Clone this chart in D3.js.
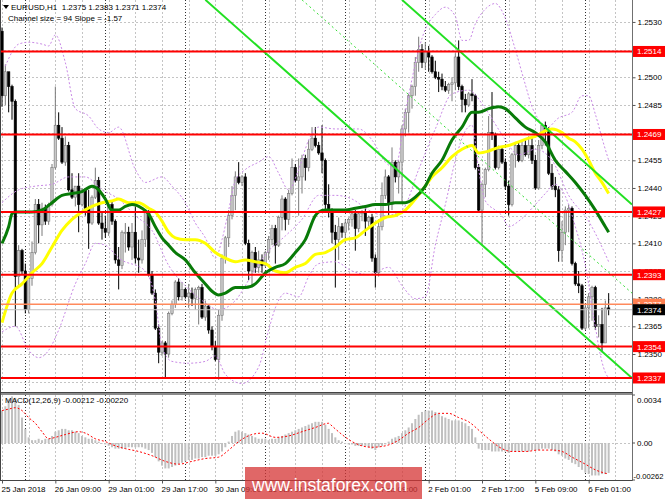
<!DOCTYPE html>
<html>
<head>
<meta charset="utf-8">
<script src="https://cdn.jsdelivr.net/npm/d3@7"></script>
<style>
body { margin: 0; background: #fff; }
svg { display: block; }
text { font-family: "Liberation Sans", Arial, sans-serif; font-size: 8px; fill: #000; white-space: pre; }
</style>
</head>
<body>
<svg id="chart" width="665" height="499"></svg>
<script>
// EURUSD H1, 25 Jan 2018 17:00 .. 6 Feb 2018 07:00 (183 bars)
var firstOpen = 1.2525;
var closes = [
  1.2490, 1.2503, 1.2495, 1.2487, 1.2392, 1.2406, 1.2395, 1.2374, 1.2391, 1.2405,
  1.2431, 1.2420, 1.2429, 1.2422, 1.2431, 1.2451, 1.2474, 1.2467, 1.2454, 1.2463,
  1.2439, 1.2435, 1.2441, 1.2431, 1.2439, 1.2429, 1.2421, 1.2435, 1.2444, 1.2421,
  1.2418, 1.2416, 1.2431, 1.2422, 1.2401, 1.2398, 1.2416, 1.2416, 1.2408, 1.2416,
  1.2402, 1.2401, 1.2412, 1.2427, 1.2393, 1.2383, 1.2364, 1.2351, 1.2356, 1.2350,
  1.2372, 1.2377, 1.2389, 1.2381, 1.2385, 1.2381, 1.2383, 1.2380, 1.2385, 1.2386,
  1.2370, 1.2376, 1.2363, 1.2354, 1.2347, 1.2371, 1.2402, 1.2413, 1.2425, 1.2436,
  1.2446, 1.2443, 1.2446, 1.2410, 1.2395, 1.2405, 1.2397, 1.2401, 1.2398, 1.2405,
  1.2412, 1.2418, 1.2409, 1.2424, 1.2434, 1.2423, 1.2437, 1.2451, 1.2444, 1.2446,
  1.2456, 1.2451, 1.2461, 1.2467, 1.2463, 1.2459, 1.2455, 1.2431, 1.2427, 1.2416,
  1.2412, 1.2419, 1.2416, 1.2421, 1.2423, 1.2426, 1.2418, 1.2426, 1.2427, 1.2422,
  1.2424, 1.2402, 1.2394, 1.2419, 1.2436, 1.2446, 1.2431, 1.2454, 1.2446, 1.2454,
  1.2472, 1.2481, 1.2490, 1.2495, 1.2508, 1.2515, 1.2508, 1.2514, 1.2511, 1.2503,
  1.2500, 1.2499, 1.2495, 1.2493, 1.2496, 1.2497, 1.2511, 1.2495, 1.2488, 1.2485,
  1.2491, 1.2490, 1.2451, 1.2428, 1.2442, 1.2450, 1.2470, 1.2469, 1.2451, 1.2461,
  1.2454, 1.2441, 1.2431, 1.2458, 1.2463, 1.2455, 1.2463, 1.2458, 1.2463, 1.2455,
  1.2440, 1.2463, 1.2474, 1.2472, 1.2448, 1.2441, 1.2439, 1.2406, 1.2416, 1.2428,
  1.2429, 1.2399, 1.2388, 1.2387, 1.2364, 1.2375, 1.2381, 1.2386, 1.2365, 1.2366,
  1.2356, 1.2375, 1.2374
];
var highs = [
  1.2527, 1.2507, 1.2502, 1.2496, 1.2488, 1.2409, 1.2407, 1.2399, 1.2393, 1.2411,
  1.2434, 1.2434, 1.2432, 1.2431, 1.2432, 1.2453, 1.2495, 1.2481, 1.2473, 1.2468,
  1.2465, 1.2448, 1.2441, 1.2448, 1.2440, 1.2440, 1.2439, 1.2436, 1.2451, 1.2446,
  1.2427, 1.2425, 1.2432, 1.2433, 1.2423, 1.2408, 1.2417, 1.2421, 1.2419, 1.2421,
  1.2430, 1.2412, 1.2417, 1.2428, 1.2428, 1.2395, 1.2385, 1.2366, 1.2357, 1.2357,
  1.2373, 1.2379, 1.2390, 1.2391, 1.2389, 1.2386, 1.2388, 1.2386, 1.2386, 1.2387,
  1.2388, 1.2379, 1.2377, 1.2365, 1.2357, 1.2374, 1.2404, 1.2414, 1.2428, 1.2441,
  1.2449, 1.2454, 1.2447, 1.2448, 1.2412, 1.2406, 1.2408, 1.2406, 1.2404, 1.2406,
  1.2414, 1.2420, 1.2420, 1.2425, 1.2436, 1.2435, 1.2439, 1.2456, 1.2453, 1.2456,
  1.2458, 1.2458, 1.2466, 1.2473, 1.2473, 1.2465, 1.2474, 1.2456, 1.2442, 1.2429,
  1.2420, 1.2424, 1.2421, 1.2423, 1.2424, 1.2427, 1.2428, 1.2427, 1.2428, 1.2429,
  1.2425, 1.2426, 1.2404, 1.2423, 1.2443, 1.2450, 1.2447, 1.2462, 1.2455, 1.2455,
  1.2474, 1.2483, 1.2491, 1.2496, 1.2511, 1.2522, 1.2518, 1.2519, 1.2517, 1.2512,
  1.2509, 1.2503, 1.2502, 1.2498, 1.2497, 1.2500, 1.2513, 1.2520, 1.2496, 1.2491,
  1.2492, 1.2499, 1.2491, 1.2453, 1.2443, 1.2451, 1.2479, 1.2492, 1.2470, 1.2463,
  1.2462, 1.2456, 1.2444, 1.2459, 1.2465, 1.2465, 1.2465, 1.2466, 1.2468, 1.2467,
  1.2458, 1.2466, 1.2475, 1.2476, 1.2473, 1.2453, 1.2446, 1.2441, 1.2422, 1.2430,
  1.2431, 1.2430, 1.2400, 1.2395, 1.2388, 1.2377, 1.2383, 1.2387, 1.2387, 1.2371,
  1.2375, 1.2379, 1.2383
];
var lows = [
  1.2484, 1.2485, 1.2481, 1.2477, 1.2365, 1.2387, 1.2393, 1.2372, 1.2372, 1.2387,
  1.2404, 1.2410, 1.2414, 1.2420, 1.2420, 1.2430, 1.2450, 1.2466, 1.2453, 1.2452,
  1.2438, 1.2434, 1.2430, 1.2416, 1.2430, 1.2425, 1.2407, 1.2420, 1.2434, 1.2420,
  1.2412, 1.2413, 1.2414, 1.2420, 1.2399, 1.2385, 1.2396, 1.2405, 1.2406, 1.2401,
  1.2399, 1.2394, 1.2399, 1.2408, 1.2392, 1.2382, 1.2363, 1.2345, 1.2349, 1.2337,
  1.2348, 1.2371, 1.2375, 1.2379, 1.2379, 1.2380, 1.2375, 1.2376, 1.2374, 1.2366,
  1.2369, 1.2368, 1.2361, 1.2352, 1.2346, 1.2336, 1.2368, 1.2399, 1.2408, 1.2423,
  1.2428, 1.2442, 1.2441, 1.2409, 1.2390, 1.2386, 1.2394, 1.2394, 1.2394, 1.2397,
  1.2401, 1.2409, 1.2399, 1.2408, 1.2417, 1.2417, 1.2420, 1.2436, 1.2443, 1.2425,
  1.2437, 1.2444, 1.2449, 1.2460, 1.2462, 1.2458, 1.2448, 1.2427, 1.2424, 1.2410,
  1.2386, 1.2401, 1.2413, 1.2410, 1.2417, 1.2419, 1.2406, 1.2416, 1.2422, 1.2414,
  1.2419, 1.2400, 1.2386, 1.2392, 1.2417, 1.2434, 1.2424, 1.2428, 1.2443, 1.2437,
  1.2432, 1.2468, 1.2470, 1.2483, 1.2490, 1.2503, 1.2505, 1.2504, 1.2503, 1.2502,
  1.2499, 1.2492, 1.2493, 1.2492, 1.2491, 1.2487, 1.2493, 1.2493, 1.2481, 1.2481,
  1.2484, 1.2487, 1.2450, 1.2427, 1.2409, 1.2435, 1.2449, 1.2466, 1.2450, 1.2450,
  1.2453, 1.2439, 1.2425, 1.2430, 1.2451, 1.2454, 1.2454, 1.2457, 1.2456, 1.2453,
  1.2439, 1.2439, 1.2461, 1.2463, 1.2447, 1.2439, 1.2435, 1.2400, 1.2400, 1.2409,
  1.2416, 1.2398, 1.2387, 1.2383, 1.2363, 1.2363, 1.2364, 1.2368, 1.2363, 1.2359,
  1.2351, 1.2356, 1.2371
];

// moving averages at sample bars
var yellowBars = [0,3,6,9,12,15,18,21,24,27,30,33,35,38,41,44,46,48,50,52,55,58,61,64,67,70,73,76,79,82,
  85,88,91,94,97,100,103,106,109,112,115,118,121,124,127,129,132,135,138,141,143,146,149,152,155,158,160,163,165,168,
  170,172,174,176,178,180,182];
var yellowVals = [1.2367,1.2383,1.2388,1.2394,1.2399,1.2408,1.2417,1.2423,1.2427,1.2430,
  1.2432,1.2433,1.2434,1.2432,1.2432,1.2429,1.2427,1.2422,1.2416,1.2413,
  1.2412,1.2412,1.2410,1.2405,1.2402,1.2400,1.2401,1.2400,1.2399,1.2395,
  1.2394,1.2397,1.2399,1.2404,1.2405,1.2408,1.2412,1.2413,1.2417,1.2421,
  1.2424,1.2425,1.2428,1.2434,1.2441,1.2446,1.2451,1.2457,1.2461,1.2463,
  1.2459,1.2460,1.2462,1.2463,1.2465,1.2467,1.2468,1.2471,1.2472,1.2470,
  1.2467,1.2465,1.2461,1.2455,1.2448,1.2443,1.2437];
var greenBars = [0,2,3,4,6,9,12,15,18,21,24,27,29,31,33,35,37,39,42,44,46,48,50,52,55,58,61,63,65,67,
  70,73,76,79,82,85,88,91,94,95,97,100,103,106,109,112,115,118,121,124,127,129,132,135,138,141,143,146,149,151,
  154,157,160,163,166,169,172,175,178,181,182];
var greenVals = [1.2410,1.2419,1.2426,1.2427,1.2427,1.2427,1.2428,1.2432,1.2436,1.2437,
  1.2438,1.2441,1.2439,1.2434,1.2428,1.2428,1.2430,1.2431,1.2429,1.2426,
  1.2419,1.2413,1.2409,1.2405,1.2401,1.2394,1.2388,1.2384,1.2382,1.2383,
  1.2386,1.2386,1.2388,1.2394,1.2397,1.2399,1.2405,1.2412,1.2425,1.2427,
  1.2428,1.2428,1.2428,1.2429,1.2430,1.2431,1.2431,1.2432,1.2432,1.2435,
  1.2441,1.2448,1.2455,1.2466,1.2473,1.2481,1.2481,1.2483,1.2484,1.2483,
  1.2478,1.2473,1.2470,1.2465,1.2455,1.2449,1.2443,1.2436,1.2428,1.2419,1.2416];

// bands (violet dotted)
var upperBars = [1,5,8,12,14,16,19,22,26,29,32,35,40,43,48,51,55,58,61,64,
  66,68,70,73,77,80,83,86,89,92,95,100,107,111,115,118,121,123,125,127,
  130,133,136,138,140,142,145,148,151,154,157,159,161,163,167,171,174,176,178,180,182];
var upperVals = [1.2506,1.2518,1.2519,1.2518,1.2517,1.2523,1.2508,1.2483,1.2479,1.2472,
  1.2470,1.2473,1.2450,1.2443,1.2446,1.2441,1.2432,1.2421,1.2413,1.2402,
  1.2412,1.2428,1.2444,1.2450,1.2454,1.2457,1.2448,1.2439,1.2450,1.2466,
  1.2473,1.2472,1.2472,1.2466,1.2454,1.2451,1.2481,1.2499,1.2515,1.2526,
  1.2534,1.2538,1.2533,1.2520,1.2520,1.2529,1.2537,1.2540,1.2532,1.2515,
  1.2496,1.2484,1.2477,1.2472,1.2478,1.2481,1.2490,1.2490,1.2480,1.2467,1.2455];
var midBars = [0,5,10,15,20,25,30,35,40,45,50,55,60,65,70,75,80,85,90,95,
  100,105,110,115,120,125,130,135,140,145,150,155,160,165,170,176,180,182];
var midVals = [1.2432,1.2439,1.2441,1.2442,1.2446,1.2446,1.2439,1.2434,1.2425,1.2417,
  1.2398,1.2387,1.2379,1.2374,1.2379,1.2393,1.2406,1.2414,1.2423,1.2436,
  1.2436,1.2434,1.2428,1.2425,1.2428,1.2450,1.2472,1.2491,1.2493,1.2483,
  1.2469,1.2458,1.2461,1.2455,1.2436,1.2422,1.2408,1.2400];
var lowerBars = [0,4,8,11,14,17,22,25,28,31,35,43,46,48,51,56,61,64,67,72,
  77,80,82,85,89,92,95,100,105,110,116,120,124,127,130,133,136,139,141,143,
  145,148,150,152,155,160,163,166,170,172,174,176,177,178,179,181,182];
var lowerVals = [1.2362,1.2365,1.2352,1.2348,1.2352,1.2363,1.2388,1.2399,1.2410,1.2409,
  1.2402,1.2395,1.2379,1.2354,1.2346,1.2345,1.2346,1.2349,1.2339,1.2334,
  1.2343,1.2363,1.2375,1.2383,1.2381,1.2392,1.2399,1.2400,1.2395,1.2393,
  1.2397,1.2387,1.2380,1.2381,1.2409,1.2431,1.2455,1.2471,1.2474,1.2450,
  1.2433,1.2428,1.2425,1.2419,1.2422,1.2431,1.2437,1.2442,1.2431,1.2419,
  1.2406,1.2388,1.2375,1.2365,1.2354,1.2340,1.2337];

// MACD(12,26,9): main values as histogram, signal sampled
var macdVals = [
  0.0023, 0.0026, 0.0031, 0.0033, 0.0032, 0.0027, 0.0018, 0.0010, 0.0004, 0.0002,
  0.0002, 0.0003, 0.0002, 0.0003, 0.0003, 0.0005, 0.0008, 0.0009, 0.0010, 0.0010,
  0.0009, 0.0009, 0.0008, 0.0007, 0.0005, 0.0004, 0.0003, 0.0003, 0.0002, 0.0001,
  0.0000, -0.0001, -0.0002, -0.0003, -0.0004, -0.0004, -0.0004, -0.0004, -0.0003, -0.0003,
  -0.0003, -0.0003, -0.0003, -0.0004, -0.0005, -0.0007, -0.0010, -0.0013, -0.0016, -0.0018,
  -0.0018, -0.0017, -0.0016, -0.0015, -0.0014, -0.0013, -0.0012, -0.0012, -0.0011, -0.0011,
  -0.0010, -0.0010, -0.0009, -0.0009, -0.0009, -0.0008, -0.0006, -0.0003, 0.0001, 0.0005,
  0.0008, 0.0009, 0.0008, 0.0007, 0.0006, 0.0005, 0.0004, 0.0003, 0.0003, 0.0003,
  0.0002, 0.0003, 0.0003, 0.0004, 0.0005, 0.0006, 0.0007, 0.0008, 0.0009, 0.0010,
  0.0011, 0.0012, 0.0013, 0.0014, 0.0015, 0.0015, 0.0015, 0.0013, 0.0010, 0.0007,
  0.0004, 0.0002, 0.0001, 0.0000, -0.0001, -0.0001, -0.0002, -0.0002, -0.0002, -0.0002,
  -0.0003, -0.0004, -0.0005, -0.0003, -0.0002, -0.0001, 0.0001, 0.0003, 0.0004, 0.0005,
  0.0007, 0.0009, 0.0011, 0.0014, 0.0017, 0.0020, 0.0022, 0.0023, 0.0023, 0.0023,
  0.0022, 0.0021, 0.0019, 0.0018, 0.0017, 0.0016, 0.0016, 0.0016, 0.0015, 0.0014,
  0.0012, 0.0010, 0.0004, -0.0004, -0.0005, -0.0005, -0.0005, -0.0006, -0.0006, -0.0006,
  -0.0006, -0.0006, -0.0007, -0.0006, -0.0006, -0.0006, -0.0006, -0.0006, -0.0006, -0.0005,
  -0.0005, -0.0005, -0.0004, -0.0004, -0.0004, -0.0005, -0.0006, -0.0008, -0.0009, -0.0011,
  -0.0012, -0.0014, -0.0015, -0.0017, -0.0019, -0.0021, -0.0022, -0.0023, -0.0023, -0.0023,
  -0.0022, -0.0022, -0.00212
];
var sigBars = [0,2,4,6,8,10,12,14,16,19,23,25,28,31,34,37,41,45,49,53,57,61,65,68,71,75,78,82,86,90,
  94,98,99,102,105,108,111,115,119,122,125,128,131,134,137,140,144,147,150,153,157,161,165,168,171,175,178,182];
var sigVals = [0.0023,0.0024,0.0025,0.0023,0.0018,0.0014,0.0008,0.0003,0.0004,0.0006,
  0.0008,0.0007,0.0003,0.0001,-0.0002,-0.0004,-0.0006,-0.0009,-0.0013,-0.0015,
  -0.0013,-0.0011,-0.0010,-0.0005,0.0001,0.0006,0.0007,0.0004,0.0005,0.0008,
  0.0011,0.0014,0.0012,0.0006,0.0001,-0.0002,-0.0003,-0.0002,0.0002,0.0007,
  0.0011,0.0017,0.0021,0.0021,0.0018,0.0015,0.0007,0.0001,-0.0004,-0.0006,
  -0.0006,-0.0005,-0.0005,-0.0006,-0.0010,-0.0015,-0.0019,-0.0022];

// support / resistance levels and price lines
var levels = [1.2514, 1.2469, 1.2427, 1.2393, 1.2354, 1.2337];
var askPrice = 1.2377, bidPrice = 1.2374;
// regression channel (bar, price) end points
var chanLower = [[61, 1.2542], [189, 1.2337]];
var chanUpper = [[120, 1.2542], [189, 1.2431]];
var chanMid = [[90, 1.2542], [189, 1.2383]];

var priceTicks = [1.2335, 1.2350, 1.2365, 1.2380, 1.2395, 1.2410, 1.2425, 1.2440, 1.2455, 1.2470, 1.2485, 1.2500, 1.2515, 1.2530];
// tick labels that sit completely under a level tag are not written
var hiddenTicks = [1.2335, 1.2470, 1.2515];
var macdTicks = [0.0034, 0.00, -0.00262];
var macdTickText = ["0.0034", "0.00", "-0.00262"];
var timeBars = [0, 16, 32, 48, 64, 80, 96, 112, 128, 144, 160, 176];
var timeLabels = ["25 Jan 2018", "26 Jan 09:00", "29 Jan 01:00", "29 Jan 17:00", "30 Jan 09:00", "31 Jan 01:00",
  "31 Jan 17:00", "1 Feb 09:00", "2 Feb 01:00", "2 Feb 17:00", "5 Feb 09:00", "6 Feb 01:00"];
var daySepBars = [7, 31, 55, 79, 103, 127, 151, 175];

var PW = 632, MAIN_B = 392, MACD_T = 395, MACD_B = 480;
var svg = d3.select("#chart");

var x = d3.scaleLinear().domain([-0.6, 189]).range([0, PW]);
var y = d3.scaleLinear().domain([1.23294, 1.25419]).range([MAIN_B, 0]);
var ym = d3.scaleLinear().domain([-0.00262, 0.0034]).range([MACD_B, MACD_T]);

var defs = svg.append("defs");
defs.append("clipPath").attr("id", "clipMain").append("rect")
  .attr("x", 0).attr("y", 0).attr("width", PW).attr("height", MAIN_B);
defs.append("clipPath").attr("id", "clipMacd").append("rect")
  .attr("x", 0).attr("y", MACD_T).attr("width", PW).attr("height", MACD_B - MACD_T);

// ---- grid
var grid = svg.append("g");
var gridBars = d3.range(0, 190, 8);
[[0, MAIN_B], [MACD_T, MACD_B]].forEach(function(p) {
  grid.selectAll(null).data(gridBars).enter().append("line")
    .attr("x1", d => Math.round(x(d)) + 0.5).attr("x2", d => Math.round(x(d)) + 0.5)
    .attr("y1", p[0]).attr("y2", p[1])
    .attr("stroke", "#c4c4c4").attr("stroke-dasharray", "2,2");
  grid.selectAll(null).data(daySepBars).enter().append("line")
    .attr("x1", d => Math.round(x(d)) + 0.5).attr("x2", d => Math.round(x(d)) + 0.5)
    .attr("y1", p[0]).attr("y2", p[1])
    .attr("stroke", "#303030").attr("stroke-dasharray", "1,2");
});
grid.selectAll(null).data(priceTicks).enter().append("line")
  .attr("x1", 0).attr("x2", PW)
  .attr("y1", d => Math.round(y(d)) + 0.5).attr("y2", d => Math.round(y(d)) + 0.5)
  .attr("stroke", "#c4c4c4").attr("stroke-dasharray", "2,2");
grid.append("line").attr("x1", 0).attr("x2", PW)
  .attr("y1", Math.round(ym(0)) + 0.5).attr("y2", Math.round(ym(0)) + 0.5)
  .attr("stroke", "#c4c4c4").attr("stroke-dasharray", "2,2");

// ---- main panel
var main = svg.append("g").attr("clip-path", "url(#clipMain)");

var candles = closes.map(function(c, i) {
  return { i: i, o: i ? closes[i - 1] : firstOpen, h: highs[i], l: lows[i], c: c };
});

var cg = main.append("g");
cg.selectAll("line.wick").data(candles).enter().append("line")
  .attr("class", "wick")
  .attr("x1", d => x(d.i)).attr("x2", d => x(d.i))
  .attr("y1", d => y(d.h)).attr("y2", d => y(d.l))
  .attr("stroke", d => d.c >= d.o ? "#7a7a7a" : "#000")
  .attr("stroke-width", 1);
cg.selectAll("rect.body").data(candles).enter().append("rect")
  .attr("class", "body")
  .attr("x", d => x(d.i) - 1.2)
  .attr("width", 2.4)
  .attr("y", d => y(Math.max(d.o, d.c)))
  .attr("height", d => Math.max(1, Math.abs(y(d.o) - y(d.c))))
  .attr("fill", d => d.c >= d.o ? "#c8c8c8" : "#000")
  .attr("stroke", d => d.c >= d.o ? "#7a7a7a" : "#000")
  .attr("stroke-width", 0.6);

var line = d3.line().x(d => x(d[0])).y(d => y(d[1])).curve(d3.curveMonotoneX);
function pairs(bars, vals) { return bars.map((b, k) => [b, vals[k]]); }

[[upperBars, upperVals], [midBars, midVals], [lowerBars, lowerVals]].forEach(function(s) {
  main.append("path").datum(pairs(s[0], s[1]))
    .attr("d", line).attr("fill", "none")
    .attr("stroke", "#c98ae6").attr("stroke-width", 1).attr("stroke-dasharray", "2,2");
});

main.append("path").datum(pairs(yellowBars, yellowVals))
  .attr("d", line).attr("fill", "none").attr("stroke", "#ffff00").attr("stroke-width", 3);
main.append("path").datum(pairs(greenBars, greenVals))
  .attr("d", line).attr("fill", "none").attr("stroke", "#087a08").attr("stroke-width", 3);

var straight = d3.line().x(d => x(d[0])).y(d => y(d[1]));
main.append("path").datum(chanLower).attr("d", straight)
  .attr("stroke", "#22e022").attr("stroke-width", 2).attr("fill", "none");
main.append("path").datum(chanUpper).attr("d", straight)
  .attr("stroke", "#22e022").attr("stroke-width", 2).attr("fill", "none");
main.append("path").datum(chanMid).attr("d", straight)
  .attr("stroke", "#33dd33").attr("stroke-width", 1).attr("stroke-dasharray", "2,3").attr("fill", "none");

main.append("line").attr("x1", 0).attr("x2", PW)
  .attr("y1", y(bidPrice)).attr("y2", y(bidPrice))
  .attr("stroke", "#c0c0c0").attr("stroke-width", 1);
main.append("line").attr("x1", 0).attr("x2", PW)
  .attr("y1", y(askPrice)).attr("y2", y(askPrice))
  .attr("stroke", "#ff8a5c").attr("stroke-width", 1.5);

main.selectAll("line.level").data(levels).enter().append("line")
  .attr("class", "level")
  .attr("x1", 0).attr("x2", PW)
  .attr("y1", d => y(d)).attr("y2", d => y(d))
  .attr("stroke", "#ff0000").attr("stroke-width", 2);

// ---- MACD panel
var mg = svg.append("g").attr("clip-path", "url(#clipMacd)");
mg.selectAll("rect").data(macdVals).enter().append("rect")
  .attr("x", (d, i) => x(i) - 1)
  .attr("width", 2)
  .attr("y", d => Math.min(ym(d), ym(0)))
  .attr("height", d => Math.max(0.5, Math.abs(ym(d) - ym(0))))
  .attr("fill", "#c0c0c0");
var mline = d3.line().x(d => x(d[0])).y(d => ym(d[1])).curve(d3.curveMonotoneX);
mg.append("path").datum(pairs(sigBars, sigVals))
  .attr("d", mline).attr("fill", "none")
  .attr("stroke", "#ff0000").attr("stroke-width", 1).attr("stroke-dasharray", "2,2");

// ---- frames
var fr = svg.append("g");
fr.append("rect").attr("x", 0).attr("y", MAIN_B).attr("width", PW + 1).attr("height", 3).attr("fill", "#8c8c8c");
fr.append("line").attr("x1", 0).attr("x2", PW + 1).attr("y1", MAIN_B + 0.5).attr("y2", MAIN_B + 0.5).attr("stroke", "#444");
fr.append("line").attr("x1", 0).attr("x2", PW + 1).attr("y1", MACD_B + 0.5).attr("y2", MACD_B + 0.5).attr("stroke", "#444");
fr.append("line").attr("x1", 0.5).attr("x2", 0.5).attr("y1", 0).attr("y2", MACD_B).attr("stroke", "#444");
fr.append("line").attr("x1", PW + 0.5).attr("x2", PW + 0.5).attr("y1", 0).attr("y2", MACD_B + 1).attr("stroke", "#707070");

// ---- price axis
var pAxis = d3.axisRight(y).tickValues(priceTicks)
  .tickFormat(d => hiddenTicks.indexOf(d) >= 0 ? "" : d3.format(".4f")(d))
  .tickSize(3).tickPadding(2);
var pa = svg.append("g").attr("transform", "translate(" + (PW + 0.5) + ",0)").call(pAxis);
pa.select(".domain").remove();
pa.selectAll("line").attr("stroke", "#555");
pa.selectAll("text").attr("font-size", 8).attr("font-family", "Liberation Sans, Arial, sans-serif").attr("fill", "#000");

function tag(price, bg) {
  var g = svg.append("g");
  g.append("rect").attr("x", PW + 1).attr("y", y(price) - 5.5).attr("width", 665 - PW - 1).attr("height", 11).attr("fill", bg);
  g.append("text").attr("x", PW + 5).attr("y", y(price) + 3).attr("fill", "#fff").style("fill", "#fff").text(d3.format(".4f")(price));
}
levels.forEach(l => tag(l, "#ff0000"));
tag(askPrice, "#ff7f50");
tag(bidPrice, "#000000");

// ---- MACD axis
svg.selectAll("line.mtick").data(macdTicks).enter().append("line")
  .attr("x1", PW).attr("x2", PW + 3)
  .attr("y1", d => ym(d)).attr("y2", d => ym(d)).attr("stroke", "#555");
svg.selectAll("text.mlab").data(macdTicks).enter().append("text")
  .attr("x", (d, i) => i === 2 ? PW + 1.5 : PW + 5)
  .attr("y", (d, i) => ym(d) + (i === 0 ? 8 : i === 2 ? -1 : 3))
  .style("font-size", (d, i) => i === 2 ? "7.6px" : "8px")
  .text((d, i) => macdTickText[i]);

// ---- time axis
var tAxis = d3.axisBottom(x).tickValues(timeBars).tickFormat((d, i) => timeLabels[i]).tickSize(3).tickPadding(3);
var ta = svg.append("g").attr("transform", "translate(0," + (MACD_B + 0.5) + ")").call(tAxis);
ta.select(".domain").remove();
ta.selectAll("line").attr("stroke", "#555");
ta.selectAll("text").attr("text-anchor", "start").attr("dx", -1)
  .attr("font-size", 8).attr("font-family", "Liberation Sans, Arial, sans-serif").attr("fill", "#000");

// ---- header texts
svg.append("path").attr("d", "M3,5 L9,5 L6,9 Z").attr("fill", "#000");
svg.append("text").attr("x", 11).attr("y", 10).text("EURUSD,H1  1.2375 1.2383 1.2371 1.2374");
svg.append("text").attr("x", 8).attr("y", 21).text("Channel size = 94 Slope = -1.57");
svg.append("text").attr("x", 5).attr("y", MACD_T + 8).text("MACD(12,26,9) -0.00212 -0.00220");

// ---- watermark
svg.append("rect").attr("x", 245).attr("y", 467).attr("width", 177).attr("height", 32).attr("fill", "rgba(214,52,52,0.75)");
svg.append("text").attr("x", 252).attr("y", 491).style("font-size", "17.5px").style("fill", "#fff").text("www.instaforex.com");
</script>
</body>
</html>
